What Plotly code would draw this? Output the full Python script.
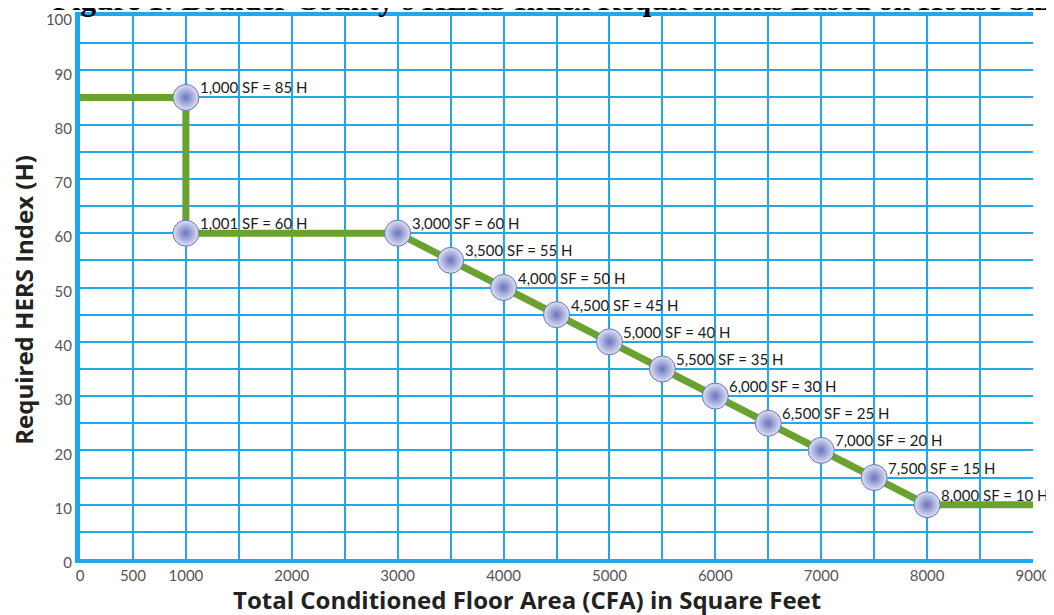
import plotly.graph_objects as go

# Data
line_x = [0, 1000, 1000, 3000, 3500, 4000, 4500, 5000, 5500, 6000, 6500, 7000, 7500, 8000, 9000]
line_y = [85, 85, 60, 60, 55, 50, 45, 40, 35, 30, 25, 20, 15, 10, 10]

point_x = [1000, 1000, 3000, 3500, 4000, 4500, 5000, 5500, 6000, 6500, 7000, 7500, 8000]
point_y = [85, 60, 60, 55, 50, 45, 40, 35, 30, 25, 20, 15, 10]
point_labels = ["1,000 SF = 85 H", "1,001 SF = 60 H", "3,000 SF = 60 H", "3,500 SF = 55 H",
                "4,000 SF = 50 H", "4,500 SF = 45 H", "5,000 SF = 40 H", "5,500 SF = 35 H",
                "6,000 SF = 30 H", "6,500 SF = 25 H", "7,000 SF = 20 H", "7,500 SF = 15 H",
                "8,000 SF = 10 H"]

x_tickvals = list(range(0, 9001, 500))
x_ticktext = ["0", "500", "1000", "", "2000", "", "3000", "", "4000", "", "5000", "",
              "6000", "", "7000", "", "8000", "", "9000"]
y_tickvals = list(range(0, 101, 5))
y_ticktext = [str(v) if v % 10 == 0 else "" for v in y_tickvals]

title_text = "Figure 1: Boulder County's HERS Index Requirements Based on House Size"
x_title = "Total Conditioned Floor Area (CFA) in Square Feet"
y_title = "Required HERS Index (H)"

GRID = "#22a7e8"
TITLE_FONT = "Open Sans, Noto Sans, sans-serif"

fig = go.Figure()
fig.add_trace(go.Scatter(x=line_x, y=line_y, mode="lines",
                         line=dict(color="#69a22f", width=7), hoverinfo="skip",
                         showlegend=False))
fig.add_trace(go.Scatter(x=point_x, y=point_y, mode="markers",
                         marker=dict(size=26, color="#dfe2f6",
                                     gradient=dict(type="radial", color="#6b73bd"),
                                     line=dict(color="#6a72b6", width=1)),
                         showlegend=False))

for x, y, t in zip(point_x, point_y, point_labels):
    fig.add_annotation(x=x, y=y, text=t, showarrow=False, xanchor="left", yanchor="middle",
                       xshift=12, yshift=10,
                       font=dict(family="Lato, sans-serif", size=15, color="#1a1a1a"))

fig.add_annotation(xref="paper", yref="paper", x=-0.03, y=1.03, text="<b>" + title_text + "</b>",
                   showarrow=False, xanchor="left", yanchor="middle",
                   font=dict(family="Liberation Serif, Times New Roman, serif", size=31, color="#000"))

fig.add_annotation(xref="paper", yref="paper", x=0.469, y=-0.0755, text="<b>" + x_title + "</b>",
                   showarrow=False, xanchor="center", yanchor="middle",
                   font=dict(family=TITLE_FONT, size=24, color="#222"))
fig.add_annotation(xref="paper", yref="paper", x=-0.059, y=0.477, text="<b>" + y_title + "</b>",
                   showarrow=False, xanchor="center", yanchor="middle", textangle=-90,
                   font=dict(family=TITLE_FONT, size=24, color="#222"))

fig.update_xaxes(range=[0, 9000], tickvals=x_tickvals, ticktext=x_ticktext,
                 showgrid=True, gridcolor=GRID, gridwidth=2,
                 showline=True, linecolor=GRID, linewidth=4, mirror=True,
                 ticks="", zeroline=False, automargin=False, ticklabeloverflow="allow",
                 tickfont=dict(family="Lato, sans-serif", size=15, color="#555"))
fig.update_yaxes(range=[0, 100], tickvals=y_tickvals, ticktext=y_ticktext,
                 showgrid=True, gridcolor=GRID, gridwidth=2,
                 showline=True, linecolor=GRID, linewidth=5,
                 ticks="", zeroline=False, automargin=False, ticklabeloverflow="allow",
                 ticklabelshift=4,
                 tickfont=dict(family="Lato, sans-serif", size=15, color="#555"))

fig.update_layout(width=1046, height=607, plot_bgcolor="white", paper_bgcolor="white",
                  margin=dict(l=72, r=21, t=8, b=56))

fig.write_html("out.html")
